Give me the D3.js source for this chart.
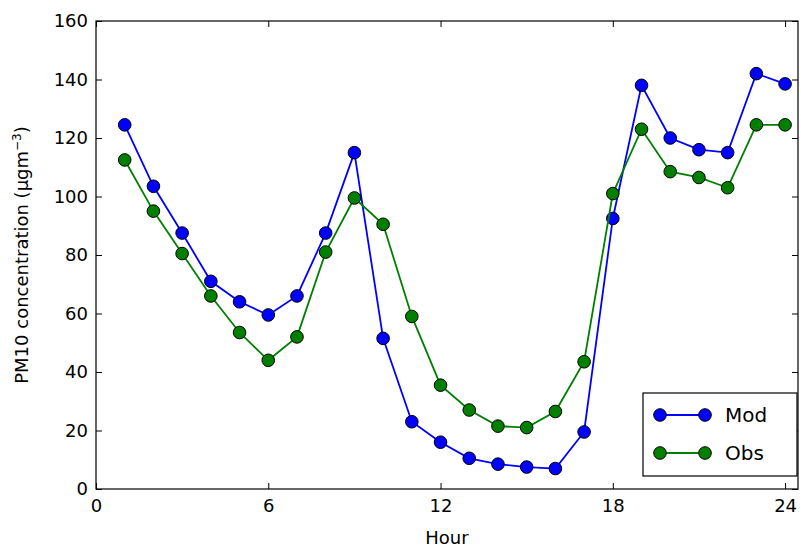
<!DOCTYPE html><html><head><meta charset="utf-8">
<script src="https://cdn.jsdelivr.net/npm/d3@7"></script>
<style>body{margin:0;background:#fff}text{font-family:"DejaVu Sans",sans-serif}</style></head><body>
<script>
const hours=d3.range(1,25);
const mod=[124.5,103.5,87.5,71,64,59.5,66,87.5,115,51.5,23,16,10.5,8.5,7.5,7,19.5,92.5,138,120,116,115,142,138.5];
const obs=[112.5,95,80.5,66,53.5,44,52,81,99.5,90.5,59,35.5,27,21.5,21,26.5,43.5,101,123,108.5,106.5,103,124.5,124.5];
const xTicks=[0,6,12,18,24], yTicks=[0,20,40,60,80,100,120,140,160];
const series=[{name:"Mod",v:mod,c:"#0000ff"},{name:"Obs",v:obs,c:"#007f00"}];
const W=801,H=552,L=96,R=798,T=21,B=489;
const svg=d3.select("body").append("svg").attr("width",W).attr("height",H);
const x=d3.scaleLinear().domain([0,24.45]).range([L,R]);
const y=d3.scaleLinear().domain([0,160]).range([B,T]);
svg.append("g").attr("transform",`translate(0,${B})`).call(d3.axisBottom(x).tickValues(xTicks).tickSize(-6).tickPadding(10));
svg.append("g").attr("transform",`translate(${L},0)`).call(d3.axisLeft(y).tickValues(yTicks).tickSize(-6).tickPadding(8));
svg.append("g").attr("transform",`translate(0,${T})`).call(d3.axisTop(x).tickValues(xTicks).tickSize(-6).tickFormat(""));
svg.append("g").attr("transform",`translate(${R},0)`).call(d3.axisRight(y).tickValues(yTicks).tickSize(-6).tickFormat(""));
svg.selectAll(".domain").remove();
svg.selectAll(".tick text").attr("font-size",18).attr("fill","#000");
svg.selectAll(".tick line").attr("stroke","#000");
svg.append("rect").attr("x",L).attr("y",T).attr("width",R-L).attr("height",B-T).attr("fill","none").attr("stroke","#000").attr("stroke-width",1.2);
const line=d3.line().x((d,i)=>x(hours[i])).y(d=>y(d));
series.forEach(s=>{
 svg.append("path").attr("d",line(s.v)).attr("fill","none").attr("stroke",s.c).attr("stroke-width",1.8);
 svg.selectAll(null).data(s.v).enter().append("circle").attr("cx",(d,i)=>x(hours[i])).attr("cy",d=>y(d)).attr("r",6.3).attr("fill",s.c).attr("stroke","#000").attr("stroke-width",1);
});
svg.append("text").attr("x",(L+R)/2).attr("y",544).attr("text-anchor","middle").attr("font-size",18).text("Hour");
const yl=svg.append("text").attr("transform",`translate(28,${(T+B)/2}) rotate(-90)`).attr("text-anchor","middle").attr("font-size",18);
yl.append("tspan").text("PM10 concentration (μgm");
yl.append("tspan").attr("dy",-7).attr("font-size",12).text("−3");
yl.append("tspan").attr("dy",7).text(")");
const lg=svg.append("g");
lg.append("rect").attr("x",643).attr("y",393).attr("width",154).attr("height",83).attr("fill","#fff").attr("stroke","#000").attr("stroke-width",1.2);
series.forEach((s,i)=>{
 const yy=415+i*38;
 lg.append("line").attr("x1",655).attr("x2",710).attr("y1",yy).attr("y2",yy).attr("stroke",s.c).attr("stroke-width",1.8);
 [660,705].forEach(cx=>lg.append("circle").attr("cx",cx).attr("cy",yy).attr("r",6.3).attr("fill",s.c).attr("stroke","#000"));
 lg.append("text").attr("x",725).attr("y",yy+7).attr("font-size",20).text(s.name);
});
</script></body></html>
